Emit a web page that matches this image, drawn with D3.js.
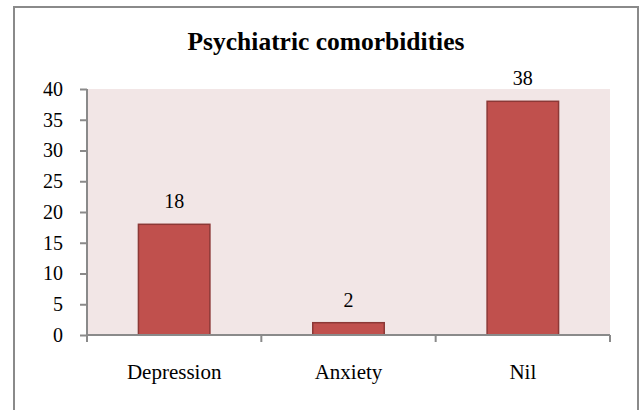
<!DOCTYPE html>
<html>
<head>
<meta charset="utf-8">
<script src="https://cdn.jsdelivr.net/npm/d3@7"></script>
<style>
  body { margin: 0; background: #fff; }
  svg text { font-family: "Liberation Serif", "Times New Roman", Times, "DejaVu Serif", serif !important; }
</style>
</head>
<body>
<svg id="chart" width="641" height="410"></svg>
<script>
const categories = ['Depression', 'Anxiety', 'Nil'];
const counts = [18, 2, 38];
const yTicks = [0, 5, 10, 15, 20, 25, 30, 35, 40];
const title = 'Psychiatric comorbidities';

const svg = d3.select('#chart');
const plot = { left: 87, right: 610, top: 89, bottom: 335 };

// outer chart border
svg.append('rect')
    .attr('x', 14).attr('y', 7)
    .attr('width', 624).attr('height', 420)
    .attr('fill', '#fff')
    .attr('stroke', '#8a8a8a')
    .attr('stroke-width', 2);

svg.append('text')
    .attr('x', 326).attr('y', 50)
    .attr('text-anchor', 'middle')
    .attr('font-size', 25.5)
    .attr('font-weight', 'bold')
    .text(title);

const y = d3.scaleLinear().domain([0, 40]).range([plot.bottom, plot.top]);
const xCat = d3.scaleBand().domain(categories).range([plot.left, plot.right]).padding(0);
const xBar = d3.scaleBand().domain(categories).range([plot.left, plot.right])
    .paddingInner(0.59).paddingOuter(0.295);

// plot area
svg.append('rect')
    .attr('x', plot.left).attr('y', plot.top)
    .attr('width', plot.right - plot.left).attr('height', plot.bottom - plot.top)
    .attr('fill', '#f2e6e6');

svg.append('g')
    .selectAll('rect')
    .data(counts)
    .enter()
    .append('rect')
        .attr('x', (d, i) => xBar(categories[i]))
        .attr('y', d => y(d))
        .attr('width', xBar.bandwidth())
        .attr('height', d => y(0) - y(d))
        .attr('fill', '#c0504d')
        .attr('stroke', '#8c3836')
        .attr('stroke-width', 1.5);

svg.append('g')
    .selectAll('text')
    .data(counts)
    .enter()
    .append('text')
        .attr('x', (d, i) => xBar(categories[i]) + xBar.bandwidth() / 2)
        .attr('y', d => y(d) - 16)
        .attr('text-anchor', 'middle')
        .attr('font-size', 20)
        .text(d => d);

// y axis
const yAxis = svg.append('g')
    .attr('transform', `translate(${plot.left},0)`)
    .call(d3.axisLeft(y).tickValues(yTicks).tickSize(7).tickPadding(17));
yAxis.attr('font-family', null);
yAxis.selectAll('text')
    .attr('font-size', 20)
    .attr('fill', '#000')
    .attr('dy', '0.32em');

// x axis
const xAxis = svg.append('g')
    .attr('transform', `translate(0,${plot.bottom})`)
    .call(d3.axisBottom(xCat).tickSize(0).tickPadding(29));
xAxis.attr('font-family', null);
xAxis.selectAll('text')
    .attr('font-size', 21)
    .attr('fill', '#000');

const bounds = categories.map(c => xCat(c)).concat([plot.right]);
xAxis.selectAll('.bound')
    .data(bounds)
    .enter()
    .append('line')
        .attr('class', 'bound')
        .attr('x1', d => d).attr('x2', d => d)
        .attr('y1', 0).attr('y2', 7);

svg.selectAll('.domain, .tick line, .bound')
    .attr('stroke', '#8a8a8a')
    .attr('stroke-width', 2);
xAxis.select('.domain').attr('d', `M${plot.left},0H${plot.right}`);
yAxis.select('.domain').attr('d', `M0,${plot.bottom}V${plot.top}`);
</script>
</body>
</html>
